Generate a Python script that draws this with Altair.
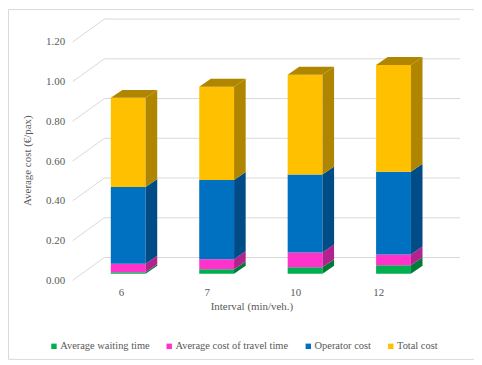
import altair as alt
import pandas as pd

# ---- data ----
categories = ["6", "7", "10", "12"]
series_names = ["Average waiting time", "Average cost of travel time", "Operator cost", "Total cost"]
waiting = [0.008, 0.022, 0.033, 0.043]
travel = [0.042, 0.051, 0.074, 0.054]
operator = [0.387, 0.399, 0.392, 0.416]
total = [0.448, 0.469, 0.502, 0.537]
y_ticks = [0.0, 0.2, 0.4, 0.6, 0.8, 1.0, 1.2]

# ---- styling ----
front_colors = ["#00B050", "#FF33CC", "#0070C0", "#FFC000"]
side_colors = ["#007A38", "#B3238F", "#004C86", "#B08600"]
FONT = "Liberation Serif"
TXT = "#595959"
GRID = "#D9D9D9"

W, H = 469, 352
# 3D geometry (in scale units): bar half width, bar depth (dx, dy), wall positions
HW = 0.197
DX, DY = 0.131, 0.040
WALL_BACK_X, WALL_FRONT_X, WALL_RIGHT_X = -0.27, -0.629, 3.753
BACK_DY, FRONT_DY = 0.0815, -0.0335

values = [waiting, travel, operator, total]

front_rows, side_rows, top_rows = [], [], []
for i, cat in enumerate(categories):
    base = 0.0
    for s, name in enumerate(series_names):
        v = values[s][i]
        lo, hi = base, base + v
        base = hi
        front_rows.append(dict(x0=i - HW, x1=i + HW, lo=lo, hi=hi, series=name))
        key = f"{cat}-{s}"
        side_rows.append(dict(x=i + HW, lo=lo, hi=hi, key=key, fill=side_colors[s]))
        side_rows.append(dict(x=i + HW + DX, lo=lo + DY, hi=hi + DY, key=key, fill=side_colors[s]))
        if s == len(series_names) - 1:
            k = f"top-{cat}"
            f = side_colors[s]
            top_rows += [
                dict(x=i - HW, lo=hi, hi=hi, key=k, fill=f),
                dict(x=i - HW + DX, lo=hi, hi=hi + DY, key=k, fill=f),
                dict(x=i + HW, lo=hi, hi=hi + DY, key=k, fill=f),
                dict(x=i + HW + DX, lo=hi + DY, hi=hi + DY, key=k, fill=f),
            ]

front_df = pd.DataFrame(front_rows)
side_df = pd.DataFrame(side_rows)
top_df = pd.DataFrame(top_rows)

grid_rows = []
for v in y_ticks:
    grid_rows.append(dict(gx=WALL_BACK_X, gx2=WALL_RIGHT_X, gy=v + BACK_DY, gy2=v + BACK_DY))
    grid_rows.append(dict(gx=WALL_FRONT_X, gx2=WALL_BACK_X, gy=v + FRONT_DY, gy2=v + BACK_DY))
grid_df = pd.DataFrame(grid_rows)

xscale = alt.Scale(domain=[0, 3], range=[121, 388], nice=False, zero=False)
yscale = alt.Scale(domain=[0, 1.2], range=[266.3, 26.3], nice=False, zero=False)

label_expr = "[" + ",".join(f"'{c}'" for c in categories) + "][datum.value]"
xaxis = alt.Axis(values=[0, 1, 2, 3], labelExpr=label_expr, title="Interval (min/veh.)",
                 domain=False, ticks=False, tickSize=0, grid=False, labelPadding=0,
                 labelBaseline="middle", labelOffset=-10, offset=-67,
                 titleX=245, titleY=14.5, titleBaseline="middle", titleAlign="center")
yaxis = alt.Axis(values=y_ticks, format=".2f", title="Average cost (€/pax)",
                 domain=False, ticks=False, tickSize=0, grid=False, labelPadding=0,
                 labelOffset=6.7, offset=-57, labelAlign="right",
                 titleX=-37, titleY=152, titleAngle=270, titleBaseline="middle", titleAlign="center")


def X(field):
    return alt.X(field, type="quantitative", scale=xscale, axis=xaxis)


def Y(field):
    return alt.Y(field, type="quantitative", scale=yscale, axis=yaxis)


grid = alt.Chart(grid_df).mark_rule(color=GRID, strokeWidth=1).encode(
    x=X("gx"), x2="gx2", y=Y("gy"), y2="gy2"
)

front = alt.Chart(front_df).mark_rect().encode(
    x=X("x0"), x2="x1", y=Y("lo"), y2="hi",
    color=alt.Color("series:N", scale=alt.Scale(domain=series_names, range=front_colors),
                    sort=series_names,
                    legend=alt.Legend(title=None, orient="none", direction="horizontal",
                                      legendX=41, legendY=334, symbolType="square",
                                      symbolSize=30, symbolStrokeWidth=0, labelOffset=1,
                                      columnPadding=14, padding=0,
                                      labelFont=FONT, labelFontSize=10.5, labelColor=TXT)),
)

side = alt.Chart(side_df).mark_area(orient="vertical", interpolate="linear").encode(
    x=X("x"), y=Y("hi"), y2="lo",
    fill=alt.Fill("fill:N", scale=None), detail="key:N",
)

top = alt.Chart(top_df).mark_area(orient="vertical", interpolate="linear").encode(
    x=X("x"), y=Y("hi"), y2="lo",
    fill=alt.Fill("fill:N", scale=None), detail="key:N",
)

chart = alt.layer(grid, front, side, top).properties(
    width=W, height=H, autosize=alt.AutoSizeParams(type="none"), padding=0,
    background="white",
).configure_view(stroke="#D9D9D9", strokeWidth=1).configure_axis(
    labelFont=FONT, labelFontSize=11, labelColor=TXT,
    titleFont=FONT, titleFontSize=11, titleColor=TXT, titleFontWeight="normal",
)

chart.save("out.html", embed_options={"renderer": "svg", "actions": False})
